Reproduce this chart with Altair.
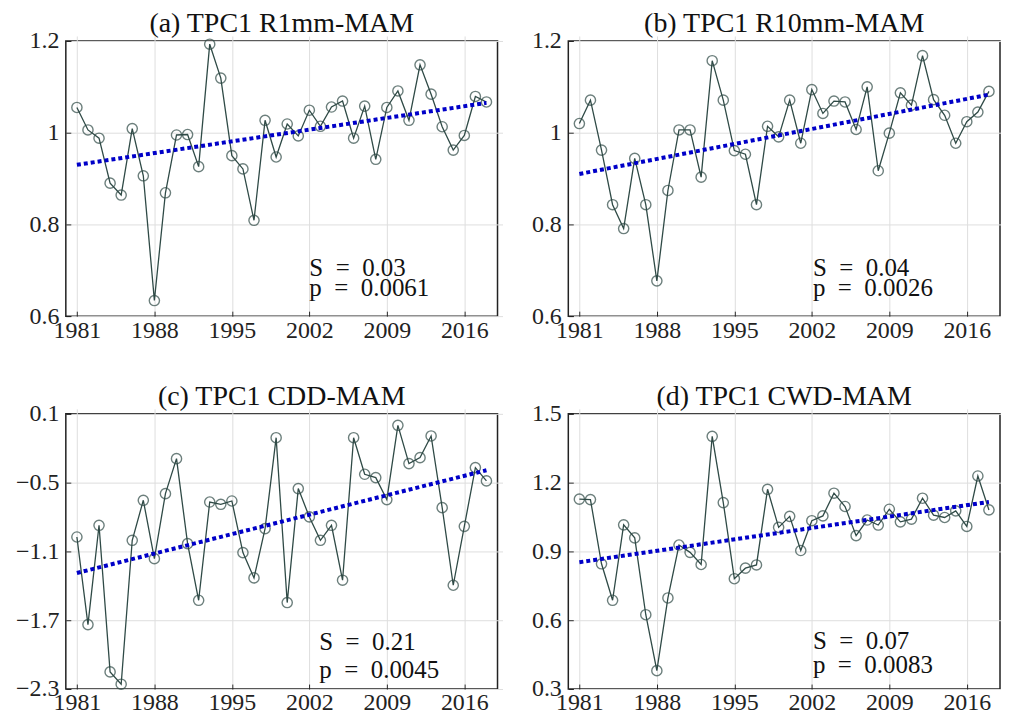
import altair as alt
import pandas as pd

years = list(range(1981, 2019))
xticks = [1981, 1988, 1995, 2002, 2009, 2016]

r1mm = [1.055, 1.006, 0.988, 0.890, 0.864, 1.009, 0.906, 0.634, 0.869, 0.995,
        0.996, 0.926, 1.193, 1.119, 0.950, 0.921, 0.809, 1.027, 0.947, 1.019,
        0.993, 1.049, 1.014, 1.056, 1.069, 0.988, 1.058, 0.942, 1.055, 1.091,
        1.027, 1.148, 1.084, 1.013, 0.962, 0.994, 1.079, 1.067]
r10mm = [1.020, 1.071, 0.962, 0.843, 0.791, 0.944, 0.843, 0.677, 0.874, 1.006,
         1.006, 0.903, 1.157, 1.071, 0.961, 0.953, 0.843, 1.014, 0.991, 1.071,
         0.977, 1.094, 1.042, 1.069, 1.067, 1.007, 1.100, 0.917, 0.999, 1.087,
         1.060, 1.168, 1.072, 1.038, 0.977, 1.024, 1.045, 1.090]
cdd = [-0.974, -1.738, -0.872, -2.151, -2.258, -1.003, -0.654, -1.163, -0.596, -0.291,
       -1.032, -1.526, -0.669, -0.689, -0.660, -1.110, -1.331, -0.901, -0.108, -1.546,
       -0.552, -0.799, -1.003, -0.872, -1.351, -0.108, -0.427, -0.456, -0.648, 0.000,
       -0.334, -0.282, -0.093, -0.718, -1.395, -0.881, -0.369, -0.485]
cwd = [1.128, 1.126, 0.846, 0.687, 1.016, 0.959, 0.624, 0.380, 0.697, 0.928,
       0.896, 0.843, 1.402, 1.113, 0.781, 0.827, 0.841, 1.171, 1.005, 1.053,
       0.904, 1.034, 1.055, 1.154, 1.096, 0.969, 1.037, 1.015, 1.084, 1.029,
       1.041, 1.132, 1.058, 1.048, 1.077, 1.009, 1.229, 1.081]

trend_years = [1981, 2018]
trend_r1mm = [0.930, 1.065]
trend_r10mm = [0.910, 1.083]
trend_cdd = [-1.288, -0.392]
trend_cwd = [0.853, 1.116]

titles = ["(a) TPC1 R1mm-MAM", "(b) TPC1 R10mm-MAM", "(c) TPC1 CDD-MAM", "(d) TPC1 CWD-MAM"]
slopes = ["S\u2002=\u20020.03", "S\u2002=\u20020.04", "S\u2002=\u20020.21", "S\u2002=\u20020.07"]
pvals = ["p\u2002=\u20020.0061", "p\u2002=\u20020.0026", "p\u2002=\u20020.0045", "p\u2002=\u20020.0083"]
yticks_ab = [0.6, 0.8, 1.0, 1.2]
yticks_c = [-2.3, -1.7, -1.1, -0.5, 0.1]
yticks_d = [0.3, 0.6, 0.9, 1.2, 1.5]

FONT = "Liberation Serif, Times New Roman, serif"
LINE_COLOR = "#2f4a46"
TREND_COLOR = "#0000c8"
W, H = 433, 276


def panel(title, values, trend, ydomain, yticks, s_txt, p_txt, ann_x, ann_y):
    df = pd.DataFrame({"year": years, "value": values})
    tdf = pd.DataFrame({"year": trend_years, "value": trend})
    adf = pd.DataFrame({"year": [ann_x, ann_x], "value": ann_y, "label": [s_txt, p_txt]})
    x = alt.X("year:Q", scale=alt.Scale(domain=[1980, 2019], nice=False, zero=False),
              axis=alt.Axis(values=xticks, format="d", title=None))
    y = alt.Y("value:Q", scale=alt.Scale(domain=ydomain, nice=False, zero=False),
              axis=alt.Axis(values=yticks, format=".1~f", title=None))
    line = alt.Chart(df).mark_line(color=LINE_COLOR, strokeWidth=1.3).encode(x=x, y=y)
    pts = alt.Chart(df).mark_point(shape="circle", filled=False, size=105,
                                   color=LINE_COLOR, strokeWidth=1.4).encode(x=x, y=y)
    tr = alt.Chart(tdf).mark_line(color=TREND_COLOR, strokeWidth=4,
                                  strokeDash=[4, 3]).encode(x=x, y=y)
    txt = alt.Chart(adf).mark_text(align="left", baseline="alphabetic", font=FONT,
                                   fontSize=25, color="#111").encode(x=x, y=y, text="label:N")
    return alt.layer(line, pts, tr, txt).properties(
        width=W, height=H,
        title=alt.TitleParams(title, font=FONT, fontSize=28, fontWeight="normal",
                              offset=-9, color="#111"))


pa = panel(titles[0], r1mm, trend_r1mm, [0.6, 1.2], yticks_ab, slopes[0], pvals[0], 2002.0, [0.687, 0.644])
pb = panel(titles[1], r10mm, trend_r10mm, [0.6, 1.2], yticks_ab, slopes[1], pvals[1], 2002.1, [0.687, 0.644])
pc = panel(titles[2], cdd, trend_cdd, [-2.3, 0.1], yticks_c, slopes[2], pvals[2], 2002.9, [-1.956, -2.204])
pd_ = panel(titles[3], cwd, trend_cwd, [0.3, 1.5], yticks_d, slopes[3], pvals[3], 2002.1, [0.473, 0.369])

chart = alt.vconcat(
    alt.hconcat(pa, pb, spacing=12),
    alt.hconcat(pc, pd_, spacing=12),
    spacing=39,
).properties(padding=0).configure_view(
    stroke="#222", strokeWidth=1.5
).configure_axis(
    labelFont=FONT, labelFontSize=24, labelColor="#222",
    gridColor="#dedede", gridWidth=1, domain=False,
    tickColor="#222", tickSize=5, offset=-5,
).configure_axisX(labelPadding=2).configure_axisY(
    labelPadding=7, minExtent=62, maxExtent=62
)

chart.save("out.html", embed_options={"renderer": "svg", "actions": False})
